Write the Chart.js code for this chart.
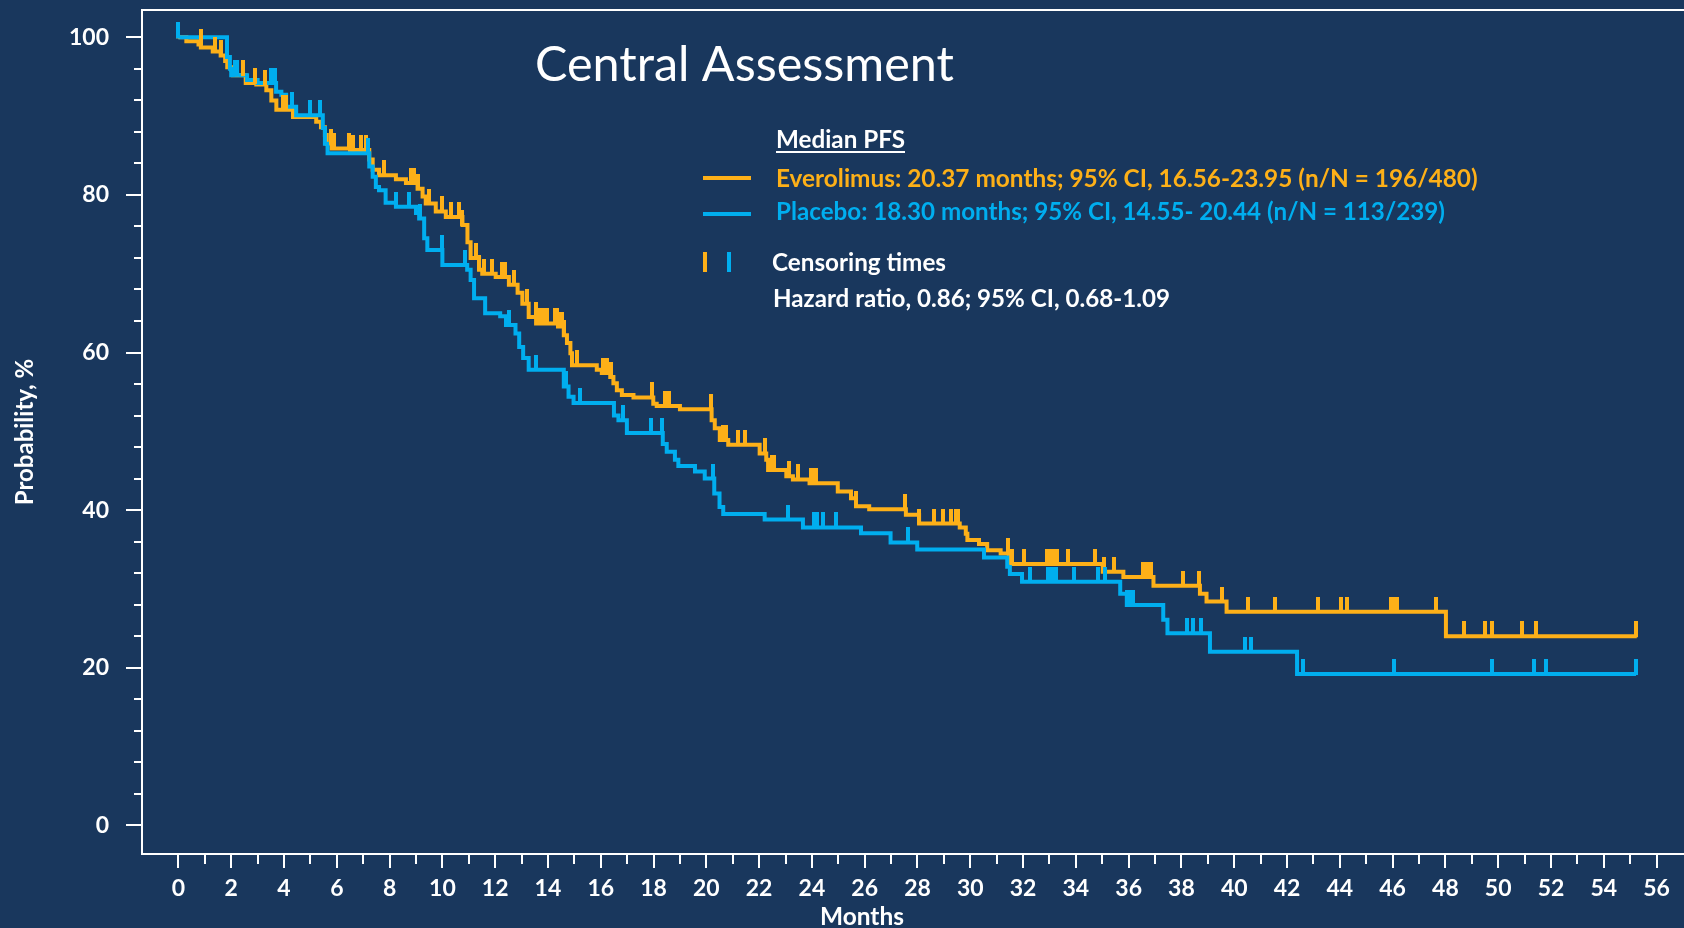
<!DOCTYPE html>
<html>
<head>
<meta charset="utf-8">
<title>Central Assessment</title>
<script src="https://cdn.jsdelivr.net/npm/chart.js@4.4.1/dist/chart.umd.min.js"></script>
<style>
    html, body { margin: 0; padding: 0; background: #19375d; }
    #kmChart { display: block; }
</style>
</head>
<body>
<canvas id="kmChart" width="1684" height="928"></canvas>
<script>
// Everolimus: month where each step starts and the PFS level (%) from that month on
var everoTimes = [0, 0.3, 0.76, 0.85, 1.3, 1.6, 1.77, 1.85, 2.0, 2.07, 2.55, 2.95, 3.33, 3.52, 3.71, 4.34, 5.22, 5.4, 5.55, 5.62,
    5.8, 6.5, 7.23, 7.36, 7.6, 8.24, 8.62, 9.06, 9.25, 9.37, 9.75, 10.13, 10.76, 10.95, 11.07, 11.39, 11.51, 12.02, 12.52, 12.85,
    13.03, 13.27, 13.55, 14.38, 14.6, 14.72, 14.85, 14.91, 15.85, 16.04, 16.36, 16.48, 16.61, 16.8, 17.24, 17.99, 18.12, 19.0, 20.2, 20.32,
    20.51, 20.83, 22.02, 22.27, 22.34, 23.03, 23.28, 23.91, 24.98, 25.48, 25.67, 26.17, 27.56, 28.06, 29.6, 29.83, 29.89, 30.33, 30.64, 31.15,
    31.46, 31.53, 35.02, 35.8, 36.94, 38.7, 38.95, 39.71, 48.02, 55.25];
var everoSurv = [100, 99.5, 99.1, 98.7, 98.2, 97.7, 97.0, 96.2, 95.9, 95.2, 94.2, 94.0, 93.3, 92.0, 90.8, 89.9, 89.3, 88.6, 87.6, 86.5,
    85.9, 85.7, 84.5, 83.2, 82.5, 82.0, 81.5, 80.8, 79.8, 78.9, 77.9, 77.2, 76.2, 74.0, 72.0, 70.5, 70.0, 69.6, 68.6, 67.6,
    66.2, 64.5, 63.7, 63.3, 62.2, 61.2, 59.9, 58.4, 57.8, 57.4, 56.9, 56.1, 55.2, 54.6, 54.3, 53.5, 53.2, 52.8, 51.4, 50.4,
    48.9, 48.3, 47.2, 46.4, 45.1, 44.3, 43.9, 43.4, 42.35, 41.5, 40.5, 40.1, 39.4, 38.3, 37.8, 37.0, 36.2, 35.7, 34.9, 34.5,
    33.9, 33.16, 32.18, 31.5, 30.4, 29.4, 28.4, 27.1, 24.0, 24.0];
var everoCensor = [0, 0.84, 1.38, 1.63, 2.22, 2.45, 2.89, 3.27, 3.96, 4.06, 5.78, 5.91, 6.48, 6.6, 6.92, 7.11, 7.8, 8.8, 8.93, 9.06,
    9.5, 10.0, 10.32, 10.63, 10.76, 11.26, 11.39, 11.57, 11.89, 12.27, 12.39, 12.71, 13.21, 13.53, 13.71, 13.84, 13.96, 14.28, 14.36, 14.44,
    14.52, 14.6, 15.1, 16.1, 16.25, 16.4, 17.93, 18.43, 18.6, 20.17, 20.64, 20.76, 21.2, 21.45, 22.21, 22.5, 22.58, 23.15, 23.47, 23.95,
    24.05, 24.15, 25.67, 27.54, 28.06, 28.63, 28.98, 29.26, 29.45, 29.55, 31.42, 31.59, 32.03, 32.9, 33.0, 33.1, 33.2, 33.3, 33.7, 34.73,
    35.05, 35.43, 36.55, 36.65, 36.75, 36.85, 38.07, 38.67, 39.52, 40.53, 41.55, 43.18, 44.05, 44.26, 45.95, 46.05, 46.15, 47.66, 48.72, 49.49,
    49.78, 50.92, 51.44, 55.22];

// Placebo
var placeboTimes = [0, 1.84, 1.95, 2.0, 2.6, 3.0, 3.7, 3.9, 4.08, 4.46, 5.47, 5.55, 5.65, 7.23, 7.36, 7.48, 7.6, 7.85, 8.24, 9.0,
    9.12, 9.31, 9.43, 10.0, 10.94, 11.07, 11.2, 11.62, 12.19, 12.41, 12.77, 12.91, 13.06, 13.27, 14.6, 14.78, 14.97, 16.5, 16.67, 16.99,
    18.35, 18.5, 18.81, 18.94, 19.57, 19.94, 20.3, 20.5, 20.64, 22.21, 23.66, 25.86, 26.98, 27.99, 30.52, 31.4, 31.5, 31.96, 35.68, 35.93,
    37.31, 37.47, 39.08, 42.38, 55.22];
var placeboSurv = [100, 97.5, 96.0, 95.2, 94.6, 94.2, 93.1, 92.7, 91.2, 90.1, 88.5, 86.5, 85.3, 83.6, 82.3, 81.0, 80.6, 79.0, 78.5, 77.7,
    77.0, 74.5, 73.0, 71.1, 70.5, 69.2, 66.9, 65.0, 64.6, 63.5, 62.4, 60.7, 59.3, 57.8, 55.7, 54.4, 53.6, 52.0, 51.4, 49.8,
    48.4, 47.4, 46.4, 45.6, 44.9, 44.0, 42.1, 40.4, 39.5, 38.8, 37.8, 37.05, 35.9, 35.0, 34.0, 32.8, 31.9, 30.9, 29.4, 27.95,
    26.1, 24.36, 22.03, 19.2, 19.2];
var placeboCensor = [0, 2.13, 2.22, 3.52, 3.64, 4.31, 4.97, 5.37, 7.17, 8.24, 8.74, 9.15, 9.98, 10.86, 12.52, 13.56, 14.7, 15.22, 16.85, 17.89,
    18.33, 20.26, 23.09, 24.07, 24.2, 24.41, 24.92, 27.63, 32.25, 32.95, 33.05, 33.15, 33.25, 33.92, 34.82, 35.11, 35.95, 36.05, 36.15, 38.2,
    38.45, 38.74, 40.4, 40.63, 42.6, 46.06, 49.77, 51.36, 51.81, 55.22];

var monthTicks = [0, 2, 4, 6, 8, 10, 12, 14, 16, 18, 20, 22, 24, 26, 28, 30, 32, 34, 36, 38, 40, 42, 44, 46, 48, 50, 52, 54, 56];
var probTicks = [0, 20, 40, 60, 80, 100];

var ORANGE = '#fdb018';
var BLUE = '#00aeef';
var BG = '#19375d';

function stepPoints(times, surv) {
    return times.map(function (t, i) { return { x: t, y: surv[i] }; });
}

// level of the curve at month t
function survAt(times, surv, t) {
    var v = surv[0];
    for (var i = 0; i < times.length; i++) {
        if (times[i] <= t) v = surv[i];
    }
    return v;
}

function censorPoints(censor, times, surv) {
    return censor.map(function (t) { return { x: t, y: survAt(times, surv, t) }; });
}

// small upward tick used as point style for censored patients
function censorMark(color) {
    var c = document.createElement('canvas');
    c.width = 4;
    c.height = 30;
    var g = c.getContext('2d');
    g.fillStyle = color;
    g.fillRect(0, 0, 4, 16);
    return c;
}

function fitText(ctx, text, x, y, width, weight, color) {
    ctx.font = weight + ' 40px Lato';
    var size = 40 * width / ctx.measureText(text).width;
    ctx.font = weight + ' ' + size.toFixed(2) + 'px Lato';
    ctx.fillStyle = color;
    ctx.textAlign = 'left';
    ctx.textBaseline = 'alphabetic';
    ctx.fillText(text, x, y);
}

var backgroundPlugin = {
    id: 'background',
    beforeDraw: function (chart) {
        var ctx = chart.ctx;
        ctx.save();
        ctx.fillStyle = BG;
        ctx.fillRect(0, 0, chart.width, chart.height);
        ctx.restore();
    }
};

// frame + major / minor tick marks
var axesPlugin = {
    id: 'kmAxes',
    beforeDatasetsDraw: function (chart) {
        var ctx = chart.ctx, area = chart.chartArea;
        var xs = chart.scales.x, ys = chart.scales.y;
        ctx.save();
        ctx.strokeStyle = '#ffffff';
        ctx.lineWidth = 2;
        ctx.lineJoin = 'miter';
        ctx.beginPath();
        ctx.moveTo(chart.width, area.top);
        ctx.lineTo(area.left, area.top);
        ctx.lineTo(area.left, area.bottom);
        ctx.lineTo(chart.width, area.bottom);
        ctx.stroke();

        ctx.beginPath();
        xs.ticks.forEach(function (t) {
            if (t.value < 0) return;
            var px = Math.round(xs.getPixelForValue(t.value));
            var len = monthTicks.indexOf(t.value) >= 0 ? 14 : 10;
            ctx.moveTo(px, area.bottom);
            ctx.lineTo(px, area.bottom + len);
        });
        ys.ticks.forEach(function (t) {
            if (t.value < 0) return;
            var py = Math.round(ys.getPixelForValue(t.value));
            var len = probTicks.indexOf(t.value) >= 0 ? 16 : 8;
            ctx.moveTo(area.left, py);
            ctx.lineTo(area.left - len, py);
        });
        ctx.stroke();
        ctx.restore();
    }
};

var textPlugin = {
    id: 'kmText',
    afterDraw: function (chart) {
        var ctx = chart.ctx;
        ctx.save();
        fitText(ctx, 'Central Assessment', 535, 81, 419, 'normal', '#ffffff');

        fitText(ctx, 'Median PFS', 776, 148, 129, 'bold', '#ffffff');
        ctx.fillStyle = '#ffffff';
        ctx.fillRect(776, 151, 129, 2);

        ctx.lineWidth = 4;
        ctx.strokeStyle = ORANGE;
        ctx.beginPath(); ctx.moveTo(703, 178); ctx.lineTo(751, 178); ctx.stroke();
        ctx.strokeStyle = BLUE;
        ctx.beginPath(); ctx.moveTo(703, 214); ctx.lineTo(751, 214); ctx.stroke();
        fitText(ctx, 'Everolimus: 20.37 months; 95% CI, 16.56-23.95 (n/N = 196/480)', 776, 187, 702, 'bold', ORANGE);
        fitText(ctx, 'Placebo: 18.30 months; 95% CI, 14.55- 20.44 (n/N = 113/239)', 776, 220, 669, 'bold', BLUE);

        ctx.fillStyle = ORANGE;
        ctx.fillRect(703, 252, 4, 20);
        ctx.fillStyle = BLUE;
        ctx.fillRect(727, 252, 4, 20);
        fitText(ctx, 'Censoring times', 772, 271, 174, 'bold', '#ffffff');
        fitText(ctx, 'Hazard ratio, 0.86; 95% CI, 0.68-1.09', 773, 307, 397, 'bold', '#ffffff');

        fitText(ctx, 'Months', 820, 925, 84, 'bold', '#ffffff');
        ctx.restore();
    }
};

document.addEventListener("DOMContentLoaded", function () {
    var ctx = document.getElementById('kmChart').getContext('2d');
    var tickFont = { family: 'Lato', weight: 'bold', size: 23 };

    var chart = new Chart(ctx, {
        type: 'line',
        data: {
            datasets: [{
                label: 'Everolimus censored',
                data: censorPoints(everoCensor, everoTimes, everoSurv),
                showLine: false,
                pointStyle: censorMark(ORANGE),
                pointRadius: 2,
                order: 1
            },
            {
                label: 'Placebo censored',
                data: censorPoints(placeboCensor, placeboTimes, placeboSurv),
                showLine: false,
                pointStyle: censorMark(BLUE),
                pointRadius: 2,
                order: 0
            },
            {
                label: 'Placebo',
                data: stepPoints(placeboTimes, placeboSurv),
                borderColor: BLUE,
                borderWidth: 4,
                stepped: 'before',
                fill: false,
                pointRadius: 0,
                borderJoinStyle: 'miter',
                order: 2
            },
            {
                label: 'Everolimus',
                data: stepPoints(everoTimes, everoSurv),
                borderColor: ORANGE,
                borderWidth: 4,
                stepped: 'before',
                fill: false,
                pointRadius: 0,
                borderJoinStyle: 'miter',
                order: 3
            }]
        },
        options: {
            responsive: false,
            animation: false,
            events: [],
            layout: { padding: { top: 10, right: 0, bottom: 0, left: 0 } },
            plugins: {
                legend: { display: false },
                tooltip: { enabled: false }
            },
            scales: {
                x: {
                    type: 'linear',
                    min: -1.38,
                    max: 56.85,
                    afterFit: function (scale) {
                        scale.height = 74;
                        scale.paddingLeft = 0;
                        scale.paddingRight = 0;
                    },
                    grid: { display: false, drawTicks: false },
                    border: { display: false },
                    ticks: {
                        stepSize: 1,
                        includeBounds: false,
                        autoSkip: false,
                        maxRotation: 0,
                        padding: 21,
                        color: '#ffffff',
                        font: tickFont,
                        callback: function (v) { return monthTicks.indexOf(v) >= 0 ? String(v) : ''; }
                    }
                },
                y: {
                    type: 'linear',
                    min: -3.64,
                    max: 103.47,
                    afterFit: function (scale) {
                        scale.width = 142;
                        scale.paddingTop = 0;
                        scale.paddingBottom = 0;
                    },
                    grid: { display: false, drawTicks: false },
                    border: { display: false },
                    ticks: {
                        stepSize: 4,
                        includeBounds: false,
                        autoSkip: false,
                        padding: 33,
                        color: '#ffffff',
                        font: tickFont,
                        callback: function (v) { return probTicks.indexOf(v) >= 0 ? String(v) : ''; }
                    },
                    title: {
                        display: true,
                        text: 'Probability, %',
                        color: '#ffffff',
                        font: { family: 'Lato', weight: 'bold', size: 24 },
                        padding: { top: 11, bottom: 0 }
                    }
                }
            }
        },
        plugins: [backgroundPlugin, axesPlugin, textPlugin]
    });
});
</script>
</body>
</html>
